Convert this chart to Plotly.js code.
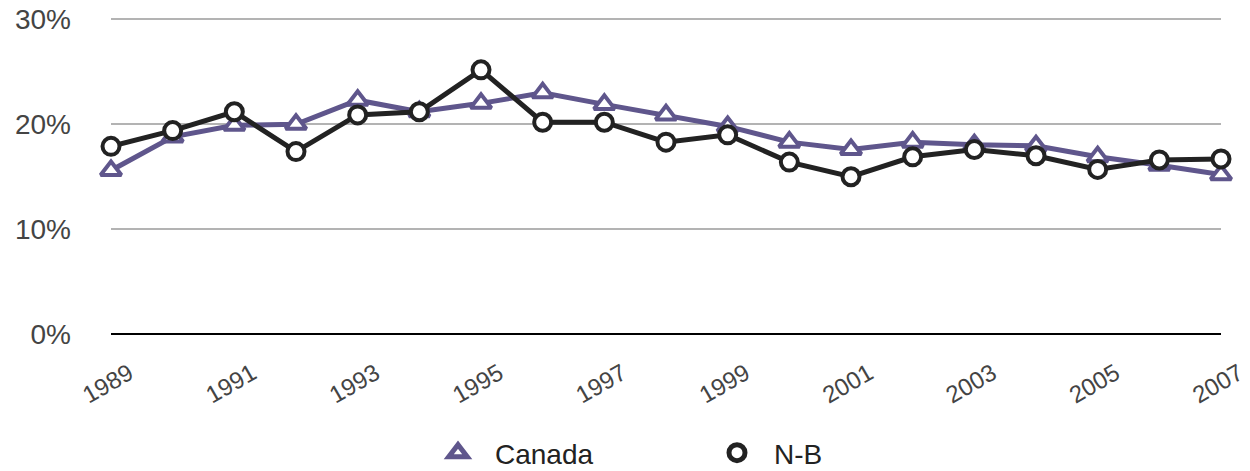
<!DOCTYPE html>
<html>
<head>
<meta charset="utf-8">
<script src="https://cdn.plot.ly/plotly-3.0.1.min.js"></script>
<style>html,body{margin:0;padding:0;background:#fff;}#chart{width:1250px;height:471px;}</style>
</head>
<body>
<div id="chart"></div>
<script>
var years = [1989,1990,1991,1992,1993,1994,1995,1996,1997,1998,1999,2000,2001,2002,2003,2004,2005,2006,2007];
var canada = [15.6,18.8,19.9,20.0,22.3,21.2,22.0,23.0,21.9,20.9,19.8,18.3,17.6,18.3,18.05,17.95,16.9,16.1,15.2];
var nb = [17.9,19.4,21.2,17.4,20.9,21.2,25.2,20.2,20.2,18.3,19.0,16.4,15.0,16.9,17.6,17.0,15.7,16.6,16.7];
var tickYears = [1989,1991,1993,1995,1997,1999,2001,2003,2005,2007];
var tickLabels = ["1989","1991","1993","1995","1997","1999","2001","2003","2005","2007"];
var yTickVals = [0,10,20,30];
var yTickLabels = ["0%","10%","20%","30%"];
var seriesNames = ["Canada","N-B"];

var purple = "#5f568c";
var black = "#222222";

var traces = [
  {x: years, y: canada, name: seriesNames[0], mode: "lines+markers", showlegend: false, cliponaxis: false,
   line: {color: purple, width: 5},
   marker: {symbol: "triangle-up", size: 18, color: "#ffffff", line: {color: purple, width: 4}}},
  {x: years, y: nb, name: seriesNames[1], mode: "lines+markers", showlegend: false, cliponaxis: false,
   line: {color: black, width: 5},
   marker: {symbol: "circle", size: 17, color: "#ffffff", line: {color: black, width: 4}}},
  {x: [null], y: [null], name: seriesNames[0], mode: "markers", showlegend: true,
   marker: {symbol: "triangle-up", size: 16, color: "#ffffff", line: {color: purple, width: 5}}},
  {x: [null], y: [null], name: seriesNames[1], mode: "markers", showlegend: true,
   marker: {symbol: "circle", size: 16, color: "#ffffff", line: {color: black, width: 5}}}
];

var layout = {
  width: 1250, height: 471,
  margin: {l: 111, r: 29, t: 9, b: 137, autoexpand: false},
  paper_bgcolor: "#ffffff", plot_bgcolor: "#ffffff",
  font: {family: "Liberation Sans, Arial, sans-serif", color: "#444444"},
  xaxis: {
    range: [1989, 2007], tickmode: "array", tickvals: tickYears, ticktext: tickLabels,
    tickangle: -30, tickfont: {size: 24, color: "#444444"},
    showgrid: false, zeroline: false, showline: false, ticks: "",
    ticklabelshift: 18, ticklabelstandoff: 20, ticklabeloverflow: "allow"
  },
  yaxis: {
    range: [0, 31], tickmode: "array", tickvals: yTickVals, ticktext: yTickLabels,
    tickfont: {size: 28, color: "#444444"},
    showgrid: true, gridcolor: "#b3b3b3", gridwidth: 2,
    zeroline: true, zerolinecolor: "#000000", zerolinewidth: 2,
    showline: false, ticks: "", ticklabelstandoff: 39
  },
  legend: {
    orientation: "h", xref: "container", yref: "paper",
    x: 421 / 1250, xanchor: "left", y: -0.366, yanchor: "middle",
    font: {size: 28, color: "#222222"}, entrywidth: 200, entrywidthmode: "pixels",
    itemsizing: "trace", itemwidth: 64
  },
  showlegend: true
};

Plotly.newPlot("chart", traces, layout, {displayModeBar: false, staticPlot: true});
</script>
</body>
</html>
